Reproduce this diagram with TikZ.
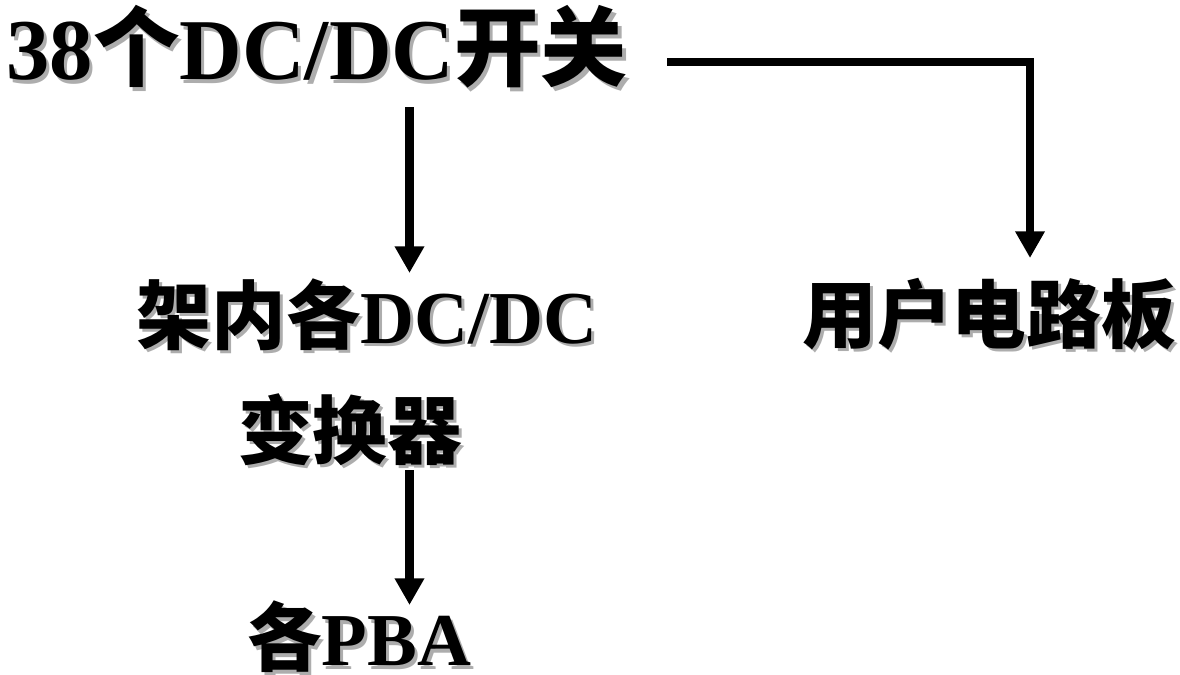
\documentclass[tikz,border=0pt]{standalone}
\usepackage{fontspec}
\setmainfont{Liberation Serif}
\newfontfamily\cjk{Noto Sans CJK SC}
\usetikzlibrary{arrows.meta}
\newcommand{\C}[1]{{\cjk\bfseries #1}}
\begin{document}
\begin{tikzpicture}[x=0.75pt,y=-0.75pt,
  lbl/.style={inner sep=0pt, font=\fontsize{56}{60}\selectfont\bfseries},
  biglbl/.style={inner sep=0pt, font=\fontsize{65}{70}\selectfont\bfseries},
  shd/.style={text=black!32, xshift=2.4pt, yshift=-2.4pt},
  arr/.style={line width=6.4pt, -{Triangle[length=20pt,width=21pt]}}]
\useasboundingbox (0,0) rectangle (1180,674);
% shadows
\node[biglbl,shd] (topS) at (317,47) {38\C{个}DC/DC\C{开关}};
\node[lbl,shd] (midS) at (367,315) {\C{架内各}DC/DC};
\node[lbl,shd] (convS) at (350,430) {\C{变换器}};
\node[lbl,shd] (userS) at (989,314) {\C{用户电路板}};
\node[lbl,shd] (pbaS) at (359,637) {\C{各}PBA};
% texts
\node[biglbl] (top) at (317,47) {38\C{个}DC/DC\C{开关}};
\node[lbl] (mid) at (367,315) {\C{架内各}DC/DC};
\node[lbl] (conv) at (350,430) {\C{变换器}};
\node[lbl] (user) at (989,314) {\C{用户电路板}};
\node[lbl] (pba) at (359,637) {\C{各}PBA};
% connectors
\coordinate (a1s) at (409.5,107);
\coordinate (a1e) at (409.5,273);
\coordinate (a2s) at (409.5,470);
\coordinate (a2e) at (409.5,605);
\coordinate (hs) at (667,62);
\coordinate (hc) at (1030,62);
\coordinate (he) at (1030,258);
\draw[arr] (a1s) -- (a1e);
\draw[arr] (a2s) -- (a2e);
\draw[arr] (hs) -- (hc) -- (he);
\end{tikzpicture}
\end{document}
